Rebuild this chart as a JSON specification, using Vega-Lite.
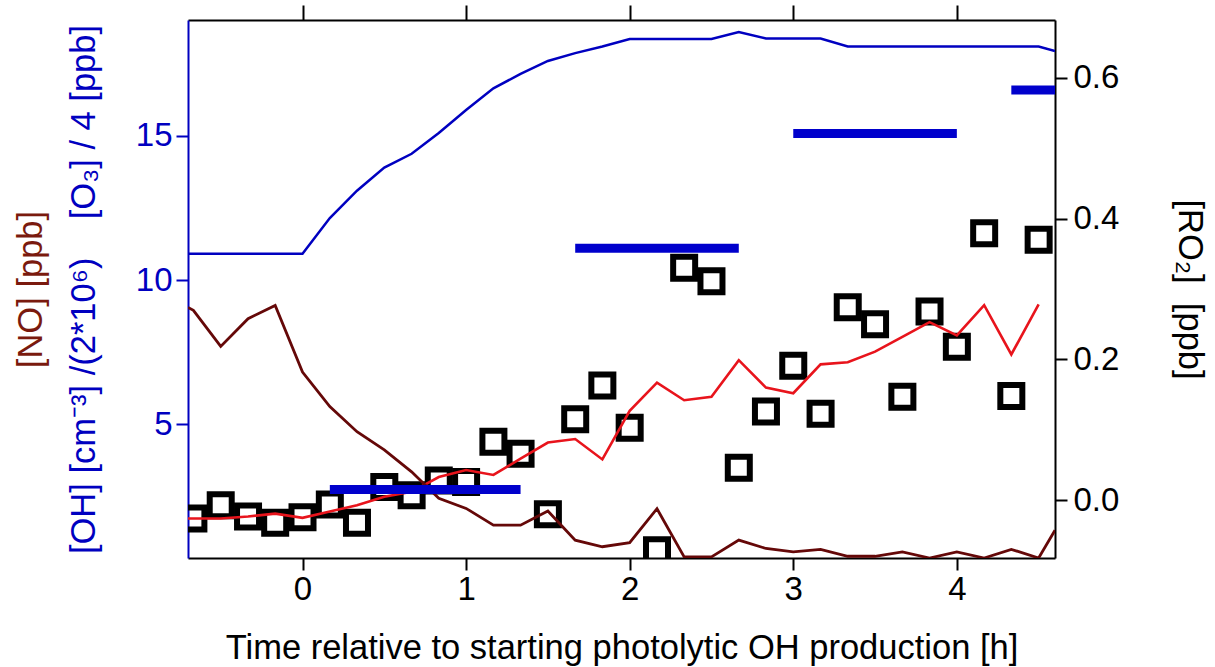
{
  "$schema": "https://vega.github.io/schema/vega-lite/v6.json",
  "autosize": {"type": "none"},
  "padding": {"left": 188, "top": 20, "right": 160, "bottom": 109},
  "width": 867,
  "height": 538,
  "config": {
    "view": {"stroke": null},
    "font": "Liberation Sans",
    "axis": {"grid": false, "labelFont": "Liberation Sans", "titleFont": "Liberation Sans", "titleFontWeight": "normal", "labelFontSize": 33, "titleFontSize": 34.5, "tickSize": 12, "tickWidth": 2, "domainWidth": 2, "labelFlush": false, "labelOverlap": false}
  },
  "datasets": {
    "o3": [
      {"t": -0.7, "v": 10.91}, {"t": 0.0, "v": 10.91}, {"t": 0.167, "v": 12.15}, {"t": 0.333, "v": 13.1}, {"t": 0.5, "v": 13.9}, {"t": 0.667, "v": 14.38}, {"t": 0.833, "v": 15.1}, {"t": 1.0, "v": 15.9}, {"t": 1.167, "v": 16.65}, {"t": 1.333, "v": 17.15}, {"t": 1.5, "v": 17.6}, {"t": 1.667, "v": 17.87}, {"t": 1.833, "v": 18.1}, {"t": 2.0, "v": 18.36}, {"t": 2.5, "v": 18.36}, {"t": 2.667, "v": 18.6}, {"t": 2.833, "v": 18.38}, {"t": 3.167, "v": 18.38}, {"t": 3.333, "v": 18.1}, {"t": 4.5, "v": 18.1}, {"t": 4.6, "v": 17.94}
    ],
    "no": [
      {"t": -0.7, "v": 9.05}, {"t": -0.667, "v": 8.95}, {"t": -0.5, "v": 7.7}, {"t": -0.333, "v": 8.66}, {"t": -0.167, "v": 9.12}, {"t": 0.0, "v": 6.81}, {"t": 0.167, "v": 5.61}, {"t": 0.333, "v": 4.74}, {"t": 0.5, "v": 4.11}, {"t": 0.667, "v": 3.35}, {"t": 0.833, "v": 2.43}, {"t": 1.0, "v": 2.08}, {"t": 1.167, "v": 1.5}, {"t": 1.333, "v": 1.5}, {"t": 1.5, "v": 1.99}, {"t": 1.667, "v": 0.98}, {"t": 1.833, "v": 0.75}, {"t": 2.0, "v": 0.89}, {"t": 2.167, "v": 2.07}, {"t": 2.333, "v": 0.4}, {"t": 2.5, "v": 0.4}, {"t": 2.667, "v": 0.98}, {"t": 2.833, "v": 0.69}, {"t": 3.0, "v": 0.57}, {"t": 3.167, "v": 0.66}, {"t": 3.333, "v": 0.42}, {"t": 3.5, "v": 0.42}, {"t": 3.667, "v": 0.57}, {"t": 3.833, "v": 0.36}, {"t": 4.0, "v": 0.57}, {"t": 4.167, "v": 0.36}, {"t": 4.333, "v": 0.66}, {"t": 4.5, "v": 0.36}, {"t": 4.6, "v": 1.32}
    ],
    "model": [
      {"t": -0.7, "v": -0.026}, {"t": -0.5, "v": -0.026}, {"t": -0.333, "v": -0.023}, {"t": -0.167, "v": -0.019}, {"t": 0.0, "v": -0.025}, {"t": 0.167, "v": -0.016}, {"t": 0.333, "v": -0.007}, {"t": 0.5, "v": 0.005}, {"t": 0.667, "v": 0.012}, {"t": 0.833, "v": 0.033}, {"t": 1.0, "v": 0.043}, {"t": 1.167, "v": 0.036}, {"t": 1.333, "v": 0.059}, {"t": 1.5, "v": 0.082}, {"t": 1.667, "v": 0.087}, {"t": 1.833, "v": 0.058}, {"t": 2.0, "v": 0.127}, {"t": 2.167, "v": 0.167}, {"t": 2.333, "v": 0.142}, {"t": 2.5, "v": 0.147}, {"t": 2.667, "v": 0.199}, {"t": 2.833, "v": 0.16}, {"t": 3.0, "v": 0.152}, {"t": 3.167, "v": 0.193}, {"t": 3.333, "v": 0.196}, {"t": 3.5, "v": 0.211}, {"t": 3.667, "v": 0.232}, {"t": 3.833, "v": 0.253}, {"t": 4.0, "v": 0.234}, {"t": 4.167, "v": 0.277}, {"t": 4.333, "v": 0.207}, {"t": 4.5, "v": 0.278}
    ],
    "ro2": [
      {"t": -0.667, "v": -0.026}, {"t": -0.5, "v": -0.007}, {"t": -0.333, "v": -0.023}, {"t": -0.167, "v": -0.032}, {"t": 0.0, "v": -0.024}, {"t": 0.167, "v": -0.006}, {"t": 0.333, "v": -0.032}, {"t": 0.5, "v": 0.019}, {"t": 0.667, "v": 0.007}, {"t": 0.833, "v": 0.028}, {"t": 1.0, "v": 0.026}, {"t": 1.167, "v": 0.083}, {"t": 1.333, "v": 0.066}, {"t": 1.5, "v": -0.02}, {"t": 1.667, "v": 0.115}, {"t": 1.833, "v": 0.163}, {"t": 2.0, "v": 0.103}, {"t": 2.167, "v": -0.071}, {"t": 2.333, "v": 0.33}, {"t": 2.5, "v": 0.311}, {"t": 2.667, "v": 0.046}, {"t": 2.833, "v": 0.126}, {"t": 3.0, "v": 0.191}, {"t": 3.167, "v": 0.123}, {"t": 3.333, "v": 0.274}, {"t": 3.5, "v": 0.25}, {"t": 3.667, "v": 0.147}, {"t": 3.833, "v": 0.268}, {"t": 4.0, "v": 0.218}, {"t": 4.167, "v": 0.379}, {"t": 4.333, "v": 0.148}, {"t": 4.5, "v": 0.37}
    ],
    "oh": [
      {"t1": 0.167, "t2": 1.333, "v": 2.74}, {"t1": 1.667, "t2": 2.667, "v": 11.1}, {"t1": 3.0, "t2": 4.0, "v": 15.08}, {"t1": 4.333, "t2": 4.7, "v": 16.59}
    ]
  },
  "resolve": {"scale": {"y": "independent"}, "axis": {"y": "independent", "x": "independent"}},
  "layer": [
    {
      "data": {"name": "ro2"},
      "mark": {"type": "point", "shape": "square", "filled": false, "stroke": "black", "strokeWidth": 6, "size": 484, "opacity": 1, "clip": true},
      "encoding": {
        "x": {"field": "t", "type": "quantitative", "scale": {"domain": [-0.7, 4.6], "nice": false, "zero": false},
              "axis": {"orient": "bottom", "values": [0, 1, 2, 3, 4], "format": "d", "domainColor": "black", "tickColor": "black", "labelColor": "black", "labelPadding": 3, "title": "Time relative to starting photolytic OH production [h]", "titleColor": "black", "titlePadding": 25}},
        "y": {"field": "v", "type": "quantitative", "scale": {"domain": [-0.082, 0.682], "nice": false, "zero": false},
              "axis": {"orient": "right", "values": [0, 0.2, 0.4, 0.6], "format": ".1f", "domainColor": "black", "tickColor": "black", "labelColor": "black", "labelPadding": 6, "title": "[RO₂]\u00a0\u00a0[ppb]", "titleColor": "black", "titlePadding": 53}}
      }
    },
    {
      "data": {"name": "model"},
      "mark": {"type": "line", "color": "#e8141c", "strokeWidth": 2.6, "clip": true},
      "encoding": {
        "x": {"field": "t", "type": "quantitative", "axis": {"orient": "top", "values": [0, 1, 2, 3, 4], "labels": false, "title": null, "tickSize": 15, "domainColor": "black", "tickColor": "black"}},
        "y": {"field": "v", "type": "quantitative", "scale": {"domain": [-0.082, 0.682], "nice": false, "zero": false}, "axis": null}
      }
    },
    {
      "data": {"name": "no"},
      "mark": {"type": "line", "color": "#650808", "strokeWidth": 2.8, "clip": true},
      "encoding": {
        "x": {"field": "t", "type": "quantitative", "axis": null},
        "y": {"field": "v", "type": "quantitative", "scale": {"domain": [0.36, 19.02], "nice": false, "zero": false},
              "axis": {"orient": "left", "domain": false, "ticks": false, "labels": false, "title": "[NO] [ppb]", "titleColor": "#7a1a0e", "titlePadding": 140}}
      }
    },
    {
      "data": {"name": "o3"},
      "mark": {"type": "line", "color": "#0000c0", "strokeWidth": 2.5, "clip": true},
      "encoding": {
        "x": {"field": "t", "type": "quantitative", "axis": null},
        "y": {"field": "v", "type": "quantitative", "scale": {"domain": [0.36, 19.02], "nice": false, "zero": false},
              "axis": {"orient": "left", "values": [5, 10, 15], "domainColor": "#0000c0", "tickColor": "#0000c0", "labelColor": "#0000c0", "labelPadding": 4, "title": "[OH] [cm⁻³] /(2*10⁶)\u00a0\u00a0\u00a0\u00a0[O₃] / 4 [ppb]", "titleColor": "#0000c0", "titlePadding": 34}}
      }
    },
    {
      "data": {"name": "oh"},
      "mark": {"type": "rule", "color": "#0000cc", "strokeWidth": 9, "strokeCap": "butt", "clip": true},
      "encoding": {
        "x": {"field": "t1", "type": "quantitative", "axis": null},
        "x2": {"field": "t2"},
        "y": {"field": "v", "type": "quantitative", "scale": {"domain": [0.36, 19.02], "nice": false, "zero": false}, "axis": null}
      }
    }
  ]
}
